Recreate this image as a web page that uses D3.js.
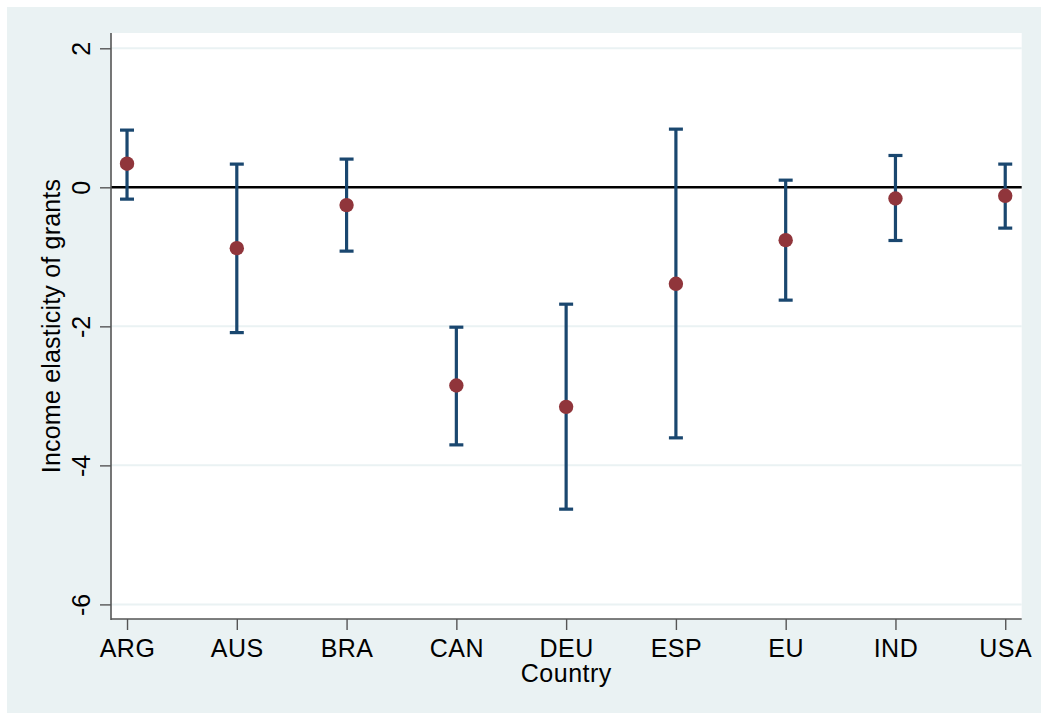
<!DOCTYPE html>
<html>
<head>
<meta charset="utf-8">
<script src="https://cdn.jsdelivr.net/npm/d3@7"></script>
<style>
  html, body { margin: 0; padding: 0; background: #ffffff; }
  svg { display: block; }
  text { font-family: "Liberation Sans", Arial, sans-serif; fill: #000; }
</style>
</head>
<body>
<svg id="chart" width="1041" height="713"></svg>
<script>
const countries = ["ARG", "AUS", "BRA", "CAN", "DEU", "ESP", "EU", "IND", "USA"];
const estimates = [0.34, -0.875, -0.256, -2.851, -3.158, -1.388, -0.76, -0.161, -0.122];
const lower = [-0.17, -2.09, -0.918, -3.705, -4.63, -3.604, -1.623, -0.765, -0.587];
const upper = [0.823, 0.334, 0.406, -2.012, -1.681, 0.837, 0.103, 0.458, 0.334];
const yTicks = [2, 0, -2, -4, -6];
const yTitle = "Income elasticity of grants";
const xTitle = "Country";

const svg = d3.select("#chart");
const W = 1041, H = 713;
const plot = { left: 111, right: 1021.7, top: 33, bottom: 619 };
const FONT = "'Liberation Sans', Arial, sans-serif";

// outer background
svg.append("rect").attr("x", 7).attr("y", 7).attr("width", W - 7).attr("height", H - 7)
  .attr("fill", "#eaf2f3");
// plot region
svg.append("rect").attr("x", plot.left).attr("y", plot.top)
  .attr("width", plot.right - plot.left).attr("height", plot.bottom - plot.top)
  .attr("fill", "#ffffff");

const x = d3.scaleLinear().domain([0.854, 9.15]).range([plot.left, plot.right]);
const y = d3.scaleLinear().domain([-6.21, 2.22]).range([plot.bottom, plot.top]);

// gridlines
svg.append("g").selectAll("line").data(yTicks.filter(t => t !== 0)).join("line")
  .attr("x1", plot.left).attr("x2", plot.right)
  .attr("y1", d => y(d)).attr("y2", d => y(d))
  .attr("stroke", "#eaf2f3").attr("stroke-width", 2);

// zero reference line
svg.append("line")
  .attr("x1", plot.left).attr("x2", plot.right)
  .attr("y1", y(0)).attr("y2", y(0))
  .attr("stroke", "#000").attr("stroke-width", 2.6);

// y axis
const yAxis = d3.axisLeft(y).tickValues(yTicks).tickSize(11).tickPadding(0).tickFormat(d3.format("d"));
const gy = svg.append("g").attr("transform", `translate(${plot.left},0)`).call(yAxis);
gy.select(".domain").attr("stroke", "#555").attr("stroke-width", 1.6)
  .attr("d", `M0,${plot.top}V${plot.bottom + 1}`);
gy.selectAll(".tick line").attr("stroke", "#555").attr("stroke-width", 1.4);
gy.selectAll(".tick text")
  .attr("font-size", 25).attr("font-family", FONT)
  .attr("fill", "#000")
  .attr("x", null).attr("dy", null)
  .attr("text-anchor", "middle")
  .attr("transform", "translate(-21,0) rotate(-90)")
  .text(d => d3.format("d")(d).replace("−", "-"));

// x axis
const xAxis = d3.axisBottom(x).tickValues(d3.range(1, countries.length + 1))
  .tickSize(11).tickPadding(6).tickFormat(d => countries[d - 1]);
const gx = svg.append("g").attr("transform", `translate(0,${plot.bottom})`).call(xAxis);
gx.select(".domain").attr("stroke", "#555").attr("stroke-width", 1.6)
  .attr("d", `M${plot.left},0H${plot.right}`);
gx.selectAll(".tick line").attr("stroke", "#555").attr("stroke-width", 1.4);
gx.selectAll(".tick text")
  .attr("font-size", 25).attr("font-family", FONT).attr("letter-spacing", "0.5px")
  .attr("fill", "#000").attr("y", 38).attr("dy", null);

// axis titles
svg.append("text")
  .attr("transform", `translate(60,${(plot.top + plot.bottom) / 2}) rotate(-90)`)
  .attr("text-anchor", "middle").attr("font-size", 25).attr("letter-spacing", "0.2px")
  .text(yTitle);
svg.append("text")
  .attr("x", (plot.left + plot.right) / 2).attr("y", 682)
  .attr("text-anchor", "middle").attr("font-size", 25).attr("letter-spacing", "0.5px")
  .text(xTitle);

// error bars
const idx = d3.range(countries.length);
const bars = svg.append("g");
bars.selectAll("line.v").data(idx).join("line").attr("class", "v")
  .attr("x1", i => x(i + 1)).attr("x2", i => x(i + 1))
  .attr("y1", i => y(upper[i])).attr("y2", i => y(lower[i]))
  .attr("stroke", "#1a476f").attr("stroke-width", 3.2);
bars.selectAll("line.cu").data(idx).join("line").attr("class", "cu")
  .attr("x1", i => x(i + 1) - 7).attr("x2", i => x(i + 1) + 7)
  .attr("y1", i => y(upper[i])).attr("y2", i => y(upper[i]))
  .attr("stroke", "#1a476f").attr("stroke-width", 3.2);
bars.selectAll("line.cl").data(idx).join("line").attr("class", "cl")
  .attr("x1", i => x(i + 1) - 7).attr("x2", i => x(i + 1) + 7)
  .attr("y1", i => y(lower[i])).attr("y2", i => y(lower[i]))
  .attr("stroke", "#1a476f").attr("stroke-width", 3.2);

// points
svg.append("g").selectAll("circle").data(idx).join("circle")
  .attr("cx", i => x(i + 1)).attr("cy", i => y(estimates[i]))
  .attr("r", 7.2).attr("fill", "#90353b");
</script>
</body>
</html>
